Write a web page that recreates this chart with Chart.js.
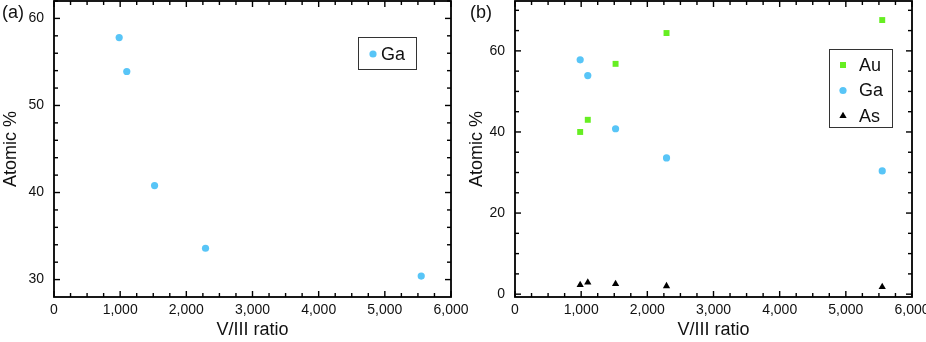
<!DOCTYPE html>
<html>
<head>
<meta charset="utf-8">
<script src="https://cdn.jsdelivr.net/npm/chart.js@4"></script>
<style>
  body { margin: 0; background: #fff; }
  #wrap { position: relative; width: 926px; height: 342px; }
  #wrap > div { position: absolute; top: 0; height: 342px; }
</style>
</head>
<body>
<div id="wrap">
  <div style="left:0;width:470px"><canvas id="chartA"></canvas></div>
  <div style="left:460px;width:466px"><canvas id="chartB"></canvas></div>
</div>
<script>
// data
var vRatio = [985, 1100, 1520, 2290, 5550];
var gaPct = [57.8, 53.9, 40.8, 33.6, 30.4];
var auPct = [40.0, 43.0, 56.8, 64.4, 67.6];
var asPct = [2.3, 2.9, 2.5, 2.0, 1.8];

var xTicks = [0, 1000, 2000, 3000, 4000, 5000, 6000];
var yTicksA = [30, 40, 50, 60];
var yTicksB = [0, 20, 40, 60];

var FONT = '"Liberation Sans", Arial, sans-serif';
var GA_COLOR = '#58c5f7';
var AU_COLOR = '#66ee22';
var AS_COLOR = '#000000';

function pts(xs, ys) {
  return xs.map(function (x, i) { return { x: x, y: ys[i] }; });
}

function fixedTicks(list) {
  return function (scale) {
    scale.ticks = list.map(function (v) { return { value: v }; });
  };
}

function fmt(v) {
  return Number(v).toLocaleString('en-US');
}

// box frame + inward ticks on all four sides, plus legend and panel tag
var framePlugin = {
  id: 'frame',
  afterDraw: function (chart, args, o) {
    var ctx = chart.ctx;
    var a = chart.chartArea;
    var xs = chart.scales.x, ys = chart.scales.y;
    var L = Math.round(a.left), R = Math.round(a.right);
    var T = Math.round(a.top), B = Math.round(a.bottom);
    ctx.save();
    ctx.fillStyle = '#000';
    var v, p, len;
    for (v = 0; v <= 6000; v += 250) {
      p = xs.getPixelForValue(v);
      len = v % 1000 === 0 ? 6 : 4;
      ctx.fillRect(p - 0.7, B - len, 1.4, len);
      ctx.fillRect(p - 0.7, T, 1.4, len);
    }
    for (v = o.yFrom; v <= ys.max; v += o.yMinor) {
      p = ys.getPixelForValue(v);
      len = v % o.yMajor === 0 ? 6 : 4;
      ctx.fillRect(L, p - 0.7, len, 1.4);
      ctx.fillRect(R - len, p - 0.7, len, 1.4);
    }
    ctx.strokeStyle = '#000';
    ctx.lineWidth = 1.8;
    ctx.strokeRect(L, T, R - L, B - T);

    // panel tag
    ctx.fillStyle = '#111';
    ctx.font = '18px ' + FONT;
    ctx.textBaseline = 'middle';
    ctx.fillText(o.tag, o.tagX, 13);

    // legend
    var G = o.legend;
    ctx.lineWidth = 1;
    ctx.strokeStyle = '#333';
    ctx.strokeRect(G.x + 0.5, G.y + 0.5, G.w, G.h);
    chart.data.datasets.forEach(function (ds, i) {
      var y = G.row0 + i * G.gap;
      ctx.fillStyle = ds.backgroundColor;
      drawMark(ctx, ds.pointStyle, G.mx, y);
      ctx.fillStyle = '#111';
      ctx.fillText(ds.label, G.tx, y + 1);
    });
    ctx.restore();
  }
};

function drawMark(ctx, style, x, y) {
  ctx.beginPath();
  if (style === 'rect') {
    ctx.rect(x - 3, y - 3, 6, 6);
  } else if (style === 'triangle') {
    ctx.moveTo(x, y - 4.2);
    ctx.lineTo(x + 3.65, y + 2.1);
    ctx.lineTo(x - 3.65, y + 2.1);
    ctx.closePath();
  } else {
    ctx.arc(x, y, 3.6, 0, Math.PI * 2);
  }
  ctx.fill();
}

function scaleSet(yMin, yMax, yTicks, yWidth, yTitlePad) {
  return {
    x: {
      type: 'linear',
      min: 0, max: 6000,
      afterBuildTicks: fixedTicks(xTicks),
      afterFit: function (s) {
        s.height = 45;
        s.paddingLeft = 0; s.paddingRight = 0;
      },
      grid: { display: false, drawTicks: false },
      border: { display: false },
      ticks: {
        padding: 5, color: '#111', font: { family: FONT, size: 14 },
        maxRotation: 0, autoSkip: false,
        callback: function (v) { return fmt(v); }
      },
      title: {
        display: true, text: 'V/III ratio', color: '#111',
        font: { family: FONT, size: 18 }, padding: { top: 0, bottom: 1 }
      }
    },
    y: {
      type: 'linear',
      min: yMin, max: yMax,
      afterBuildTicks: fixedTicks(yTicks),
      afterFit: function (s) {
        s.width = yWidth;
        s.paddingTop = 0; s.paddingBottom = 0;
      },
      grid: { display: false, drawTicks: false },
      border: { display: false },
      ticks: { padding: 10, color: '#111', font: { family: FONT, size: 14 } },
      title: {
        display: true, text: 'Atomic %', color: '#111',
        font: { family: FONT, size: 18 }, padding: { top: yTitlePad, bottom: 0 }
      }
    }
  };
}

function baseOptions(scales, frame, padRight) {
  return {
    responsive: true,
    maintainAspectRatio: false,
    animation: false,
    layout: { autoPadding: false, padding: { left: 0, right: padRight, top: 1, bottom: 0 } },
    scales: scales,
    plugins: { legend: { display: false }, tooltip: { enabled: false }, frame: frame }
  };
}

new Chart(document.getElementById('chartA'), {
  type: 'scatter',
  data: {
    datasets: [{
      label: 'Ga', data: pts(vRatio, gaPct), pointStyle: 'circle',
      backgroundColor: GA_COLOR, borderColor: GA_COLOR, pointRadius: 3.6, borderWidth: 0
    }]
  },
  options: baseOptions(
    scaleSet(28, 62, yTicksA, 54, 0),
    { yFrom: 30, yMinor: 2, yMajor: 10, tag: '(a)', tagX: 2,
      legend: { x: 358, y: 37, w: 58, h: 32, row0: 54, gap: 0, mx: 373, tx: 381 } },
    19),
  plugins: [framePlugin]
});

new Chart(document.getElementById('chartB'), {
  type: 'scatter',
  data: {
    datasets: [{
      label: 'Au', data: pts(vRatio, auPct), pointStyle: 'rect',
      backgroundColor: AU_COLOR, borderColor: AU_COLOR, pointRadius: 4.2, borderWidth: 0
    }, {
      label: 'Ga', data: pts(vRatio, gaPct), pointStyle: 'circle',
      backgroundColor: GA_COLOR, borderColor: GA_COLOR, pointRadius: 3.6, borderWidth: 0
    }, {
      label: 'As', data: pts(vRatio, asPct), pointStyle: 'triangle',
      backgroundColor: AS_COLOR, borderColor: AS_COLOR, pointRadius: 4.2, borderWidth: 0
    }]
  },
  options: baseOptions(
    scaleSet(-0.7, 72.3, yTicksB, 55, 6),
    { yFrom: 0, yMinor: 5, yMajor: 20, tag: '(b)', tagX: 10,
      legend: { x: 369, y: 49, w: 63, h: 78, row0: 65, gap: 25.5, mx: 383, tx: 399 } },
    14),
  plugins: [framePlugin]
});
</script>
</body>
</html>
